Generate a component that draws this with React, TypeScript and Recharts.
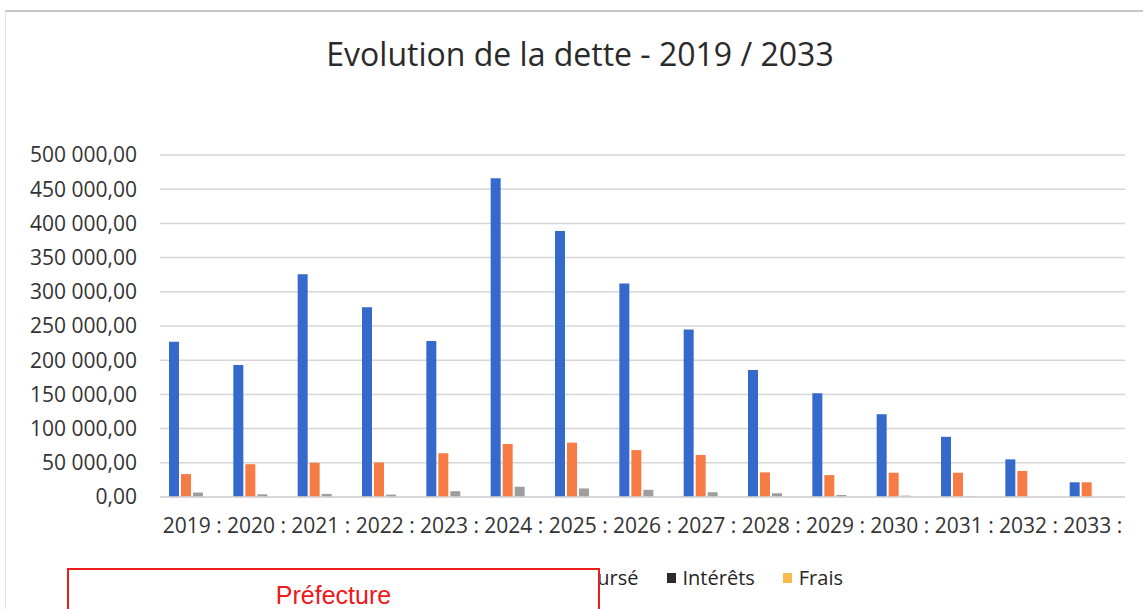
import React from 'react';
import { BarChart, Bar, XAxis, YAxis, CartesianGrid, Legend } from 'recharts';

const years = ['2019', '2020', '2021', '2022', '2023', '2024', '2025', '2026', '2027', '2028', '2029', '2030', '2031', '2032', '2033'];
const capitalRestant = [227000, 193000, 325500, 277500, 228000, 466000, 389000, 312000, 245000, 185500, 151500, 121000, 88000, 55000, 21500];
const capitalRembourse = [33500, 48000, 50000, 50500, 64000, 77500, 79500, 68500, 61500, 36000, 32000, 35500, 35500, 38000, 21500];
const interets = [6500, 4000, 4500, 3500, 8500, 15000, 12500, 10500, 7000, 5500, 3000, 2000, 1000, 0, 0];
const frais = [0, 0, 0, 0, 0, 0, 0, 0, 0, 0, 0, 0, 0, 0, 0];
const yTicks = [0, 50000, 100000, 150000, 200000, 250000, 300000, 350000, 400000, 450000, 500000];

const SERIES = [
  { key: 'restant', name: 'Capital restant dû', color: '#3569cc', legend: '#3569cc' },
  { key: 'rembourse', name: 'Capital remboursé', color: '#f77b44', legend: '#f77b44' },
  { key: 'interets', name: 'Intérêts', color: '#9e9e9e', legend: '#2b2b2b' },
  { key: 'frais', name: 'Frais', color: '#fbbb4c', legend: '#fbbb4c' },
];

const data = years.map((y, i) => ({
  label: `${y} :`,
  restant: capitalRestant[i],
  rembourse: capitalRembourse[i],
  interets: interets[i],
  frais: frais[i],
}));

const FONT = '"Open Sans", sans-serif';

const formatAmount = (v: number) => {
  const int = Math.round(v).toString().replace(/\B(?=(\d{3})+(?!\d))/g, ' ');
  return `${int},00`;
};

const renderLegend = () => (
  <div style={{ display: 'flex', justifyContent: 'flex-end', paddingRight: 300, fontFamily: FONT, fontSize: 20, lineHeight: '16px', color: '#262626' }}>
    {SERIES.map((s) => (
      <div key={s.key} style={{ display: 'flex', alignItems: 'center', marginLeft: 28 }}>
        <span style={{ width: 9, height: 10, background: s.legend, display: 'inline-block', marginRight: 7 }} />
        <span>{s.name}</span>
      </div>
    ))}
  </div>
);

export default function App() {
  return (
    <div style={{ position: 'absolute', left: 0, top: 0, width: 1143, height: 609, background: '#fff', overflow: 'hidden' }}>
      <div style={{ position: 'absolute', left: 5, top: 10, right: 0, bottom: 0, borderTop: '2px solid #c8c8c8', borderLeft: '1px solid #e4e4e4' }} />
      <div style={{ position: 'absolute', left: 0, top: 32, width: 1160, textAlign: 'center', fontFamily: FONT, fontSize: 32, color: '#2a2a2a' }}>
        Evolution de la dette - 2019 / 2033
      </div>
      <BarChart
        width={1143}
        height={609}
        data={data}
        margin={{ top: 155, right: 18, left: 10, bottom: 72 }}
        barSize={10}
        barGap={2}
      >
        <CartesianGrid vertical={false} stroke="#d6d6d6" strokeWidth={1.5} />
        <XAxis
          dataKey="label"
          interval={0}
          tickLine={false}
          tickSize={0}
          tickMargin={21}
          axisLine={{ stroke: '#d6d6d6', strokeWidth: 1.5 }}
          tick={{ fontFamily: FONT, fontSize: 21, fill: '#333' }}
          height={40}
        />
        <YAxis
          width={150}
          domain={[0, 500000]}
          ticks={yTicks}
          tickFormatter={formatAmount}
          axisLine={false}
          tickLine={false}
          tickSize={0}
          tickMargin={23}
          tick={{ fontFamily: FONT, fontSize: 21, fill: '#333' }}
        />
        {SERIES.map((s) => (
          <Bar key={s.key} dataKey={s.key} name={s.name} fill={s.color} isAnimationActive={false} />
        ))}
        <Legend
          layout="horizontal"
          verticalAlign="middle"
          content={renderLegend}
          wrapperStyle={{ top: 570, left: 0, width: 1143 }}
        />
      </BarChart>
      <div
        style={{
          position: 'absolute',
          left: 67,
          top: 568,
          width: 533,
          height: 60,
          background: '#fff',
          border: '2px solid #ee1c1c',
          textAlign: 'center',
          fontFamily: '"Liberation Sans", Arial, sans-serif',
          fontSize: 25,
          lineHeight: '16px',
          color: '#f01818',
          paddingTop: 17,
          boxSizing: 'border-box',
        }}
      >
        Préfecture
      </div>
    </div>
  );
}
